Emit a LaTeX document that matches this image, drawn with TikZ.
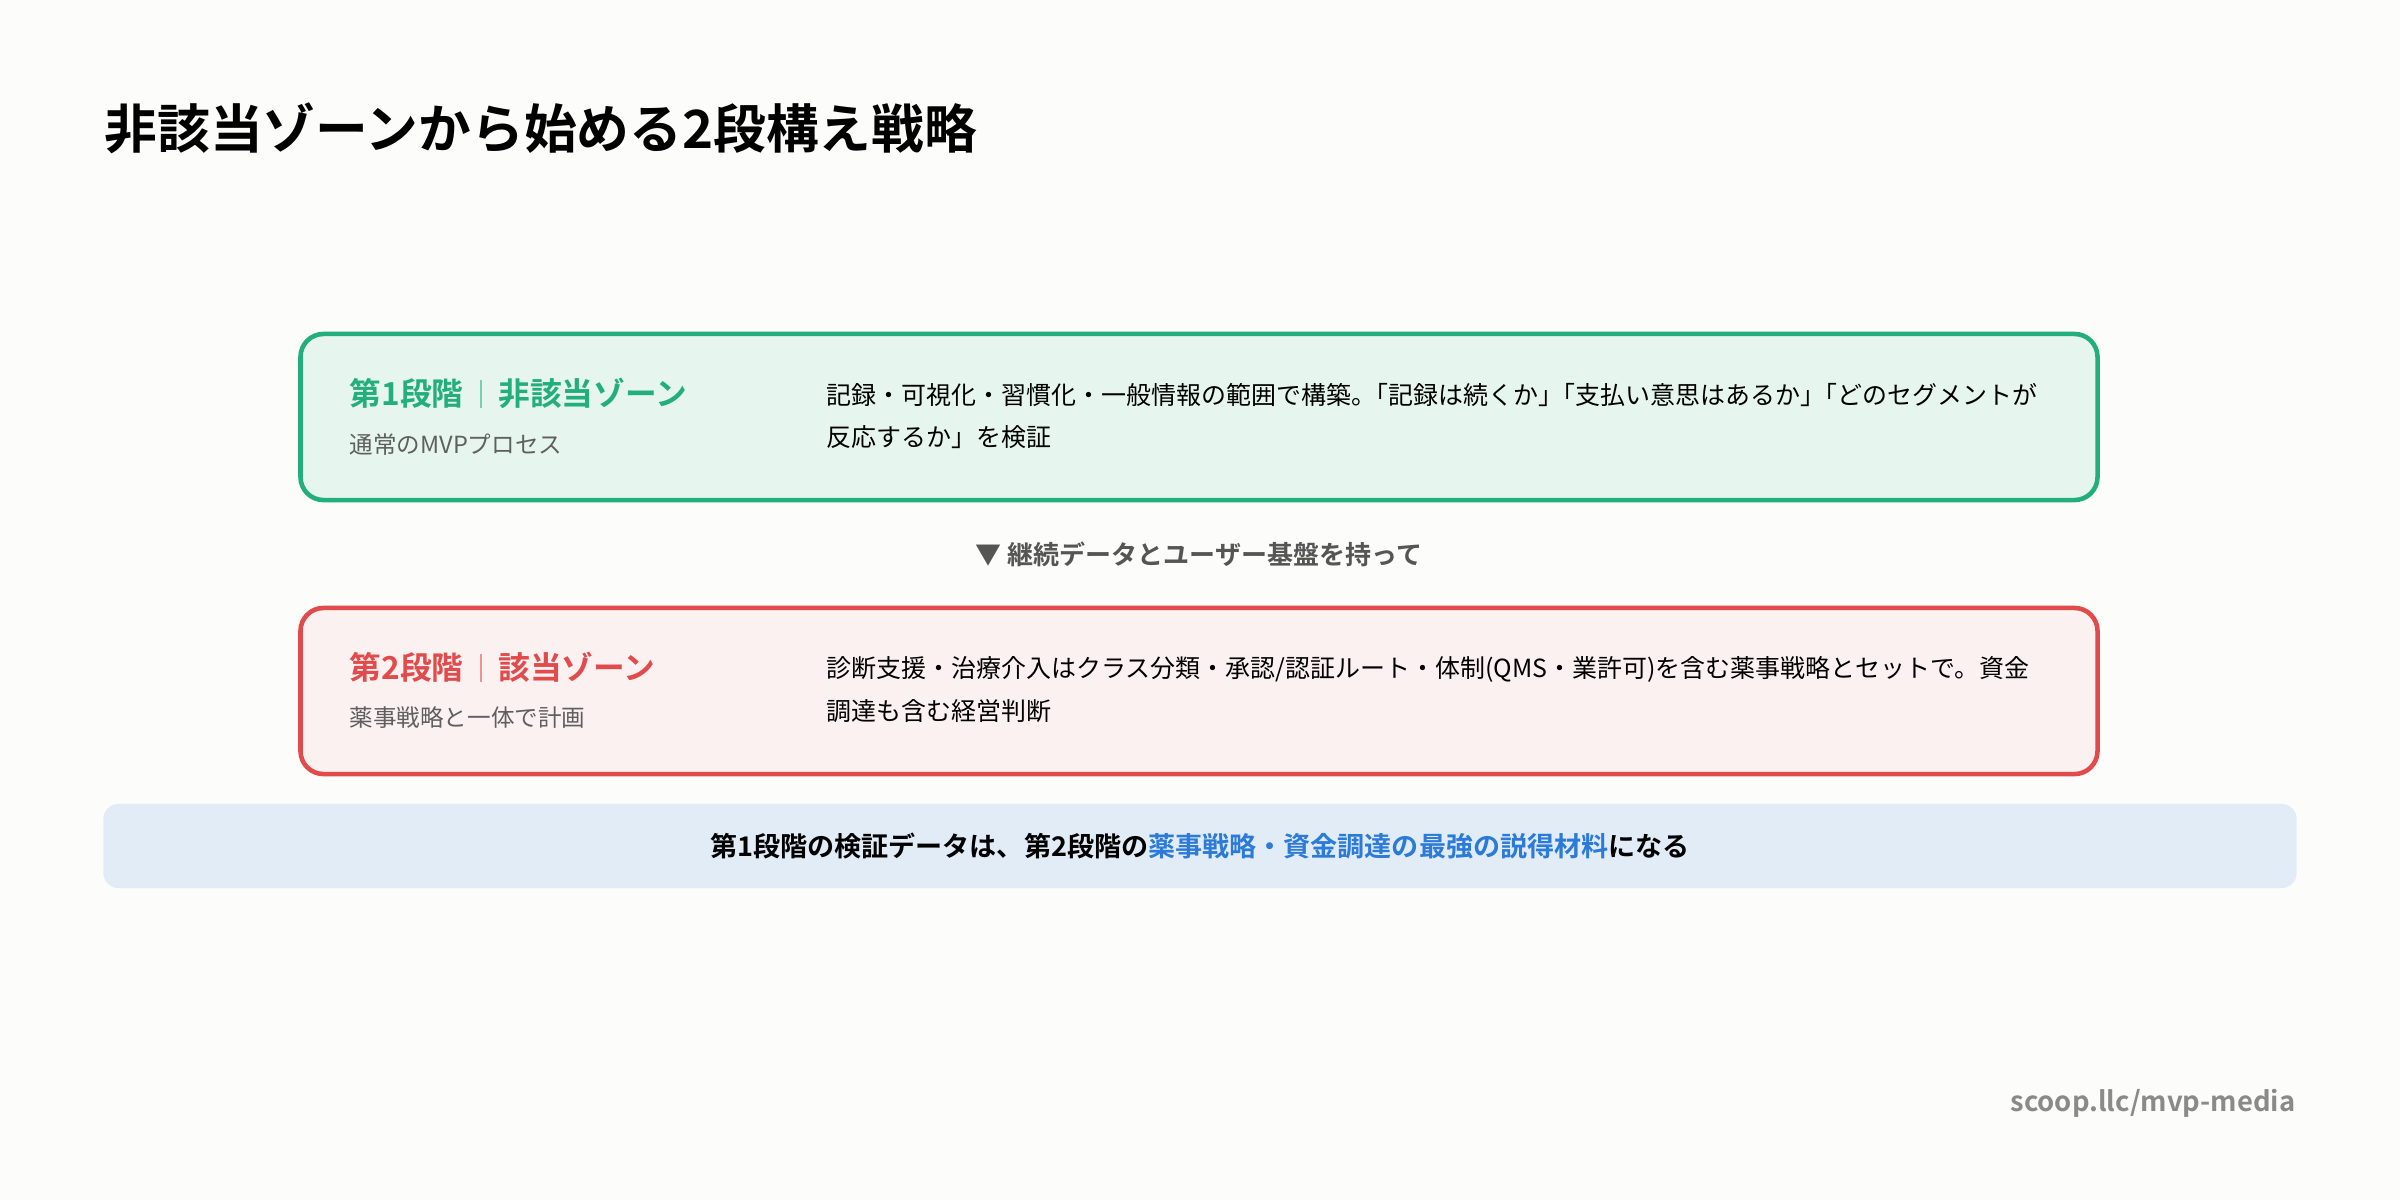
\documentclass[tikz,border=0pt]{standalone}
\usepackage{fontspec}
\setmainfont{Noto Sans CJK JP}[BoldFont={* Bold}]
\usetikzlibrary{positioning}

\definecolor{paper}{HTML}{FCFCFA}
\definecolor{okline}{HTML}{22AF7D}
\definecolor{okfill}{HTML}{E6F5EE}
\definecolor{ngline}{HTML}{E24B4B}
\definecolor{ngfill}{HTML}{FCF1F1}
\definecolor{notefill}{HTML}{E2ECF7}
\definecolor{notehl}{HTML}{2C7BD9}
\definecolor{subgray}{HTML}{5F5F5F}
\definecolor{midgray}{HTML}{555555}
\definecolor{srcgray}{HTML}{8A8A8A}

\newcommand{\stagesep}[1]{\hspace{4.8pt}{\color{#1!60}\rule[-0.1em]{0.45pt}{0.9em}}\hspace{4.8pt}}
\newcommand{\tk}{\kern-0.5em}% trim between two brackets

\begin{document}
\begin{tikzpicture}[x=0.01cm,y=-0.01cm]
\tikzset{stagebox/.style = {rounded corners=0.23cm, line width=1.3pt, minimum width=17.96cm, minimum height=1.66cm}}
\tikzset{txt/.style = {inner sep=0pt, anchor=west}}
\tikzset{head/.style = {txt, font=\fontsize{9}{10}\selectfont\bfseries}}
\tikzset{sub/.style = {txt, text=subgray, font=\fontsize{6.7}{8}\selectfont}}
\tikzset{body/.style = {txt, align=left, font=\fontsize{7.1}{12.2}\selectfont}}

% background
\fill[paper] (0,0) rectangle (2400,1200);

\node[txt, font=\fontsize{15}{18}\selectfont\bfseries] (title) at (104,128) {非該当ゾーンから始める2段構え戦略};

% stage 1
\node[stagebox, draw=okline, fill=okfill] (box1) at (1199,417) {};
\node[head, text=okline] (head1) at (349,393) {第1段階\stagesep{okline}非該当ゾーン};
\node[sub] (sub1) at (349,445) {通常のMVPプロセス};
\node[body] (body1) at (826,416) {記録・可視化・習慣化・一般情報の範囲で構築。\tk「記録は続くか」\tk「支払い意思はあるか」\tk「どのセグメントが\\反応するか」を検証};

\node[inner sep=0pt, text=midgray, font=\fontsize{7.4}{9}\selectfont\bfseries] (carry) at (1199,554) {▼ 継続データとユーザー基盤を持って};

% stage 2
\node[stagebox, draw=ngline, fill=ngfill] (box2) at (1199,691) {};
\node[head, text=ngline] (head2) at (349,667) {第2段階\stagesep{ngline}該当ゾーン};
\node[sub] (sub2) at (349,718) {薬事戦略と一体で計画};
\node[body] (body2) at (826,690) {診断支援・治療介入はクラス分類・承認/認証ルート・体制(QMS・業許可)を含む薬事戦略とセットで。資金\\調達も含む経営判断};

% bottom note
\node[fill=notefill, rounded corners=0.15cm, minimum width=21.92cm, minimum height=0.84cm] (note) at (1200,846) {};
\node[inner sep=0pt, font=\fontsize{7.7}{9}\selectfont\bfseries] (notetxt) at (note.center) {第1段階の検証データは、第2段階の\textcolor{notehl}{薬事戦略・資金調達の最強の説得材料}になる};

\node[inner sep=0pt, anchor=east, text=srcgray, font=\fontsize{7.8}{9}\selectfont\bfseries] (src) at (2296,1103) {scoop.llc/mvp-media};
\end{tikzpicture}
\end{document}
